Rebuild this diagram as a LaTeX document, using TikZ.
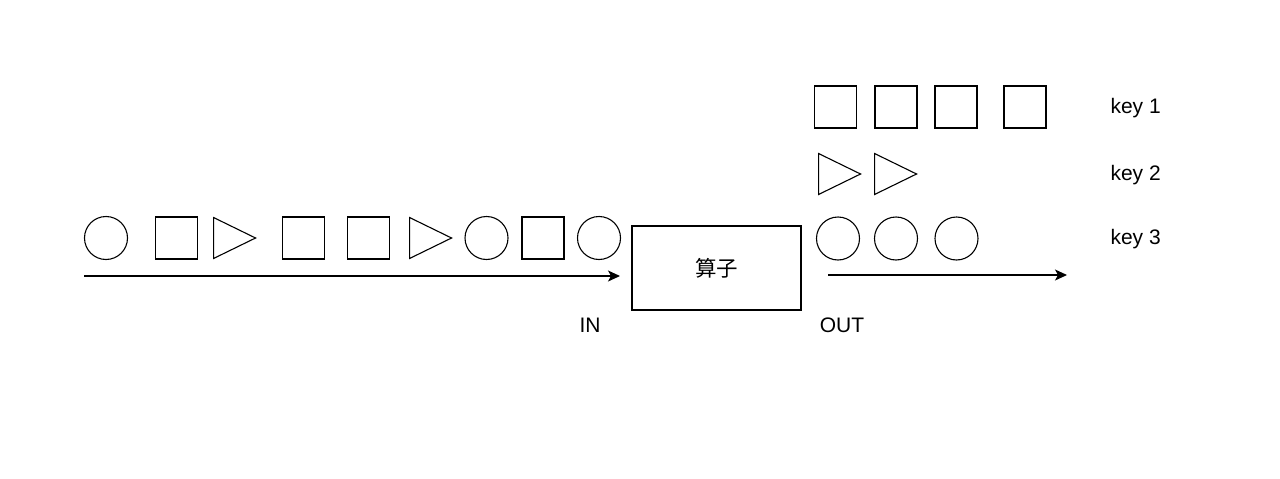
\documentclass[tikz,border=0pt]{standalone}
\usepackage{fontspec}
\setmainfont{Liberation Sans}
\newfontfamily\cjk{Noto Sans CJK SC}
\usetikzlibrary{arrows.meta,shapes.geometric}

\begin{document}
\begin{tikzpicture}[
  x=1pt, y=-1pt,
  >={Stealth[length=12pt,width=11pt,inset=3pt]},
  token/.style={draw,line width=1.1pt,inner sep=0pt},
  circ/.style={token,circle,minimum size=43pt},
  sq/.style={token,rectangle,minimum size=42pt},
  tri/.style={token,isosceles triangle,isosceles triangle apex angle=52,
              minimum height=42pt,anchor=west},
  lbl/.style={font=\fontsize{21}{25}\selectfont},
  flow/.style={->,line width=1.1pt},
]
\useasboundingbox (0,0) rectangle (1280,479);

% ===================================================================
% Input stream (left of the operator)
% ===================================================================
\foreach \kind/\x [count=\i] in {circ/106, sq/176.5, tri/213, sq/303.5,
    sq/368.5, tri/409, circ/486.5, sq/543, circ/599}
  \node[\kind] (in\i) at (\x,238) {};

\coordinate (inStart) at (84,276);
\coordinate (inEnd)   at (620,276);
\draw[flow] (inStart) -- (inEnd);
\node[lbl] (inLabel) at (590,325) {IN};

% ===================================================================
% Operator box
% ===================================================================
\node[draw,line width=1.1pt,minimum width=169pt,minimum height=84pt]
  (op) at (716.5,268) {\fontsize{21.5}{25}\selectfont\cjk 算子};

% ===================================================================
% Output streams, one row per key
% ===================================================================
\foreach \x [count=\i] in {835.5,896,956,1025}
  \node[sq] (keyA\i) at (\x,107) {};
\foreach \x [count=\i] in {818,874}
  \node[tri] (keyB\i) at (\x,174) {};
\foreach \x [count=\i] in {838,896,956.5}
  \node[circ] (keyC\i) at (\x,238.5) {};

\node[lbl,anchor=west] (key1) at (1107,108) {key 1};
\node[lbl,anchor=west] (key2) at (1107,175) {key 2};
\node[lbl,anchor=west] (key3) at (1107,239) {key 3};

\coordinate (outStart) at (828,275);
\coordinate (outEnd)   at (1067,275);
\draw[flow] (outStart) -- (outEnd);
\node[lbl] (outLabel) at (842,325) {OUT};

\end{tikzpicture}
\end{document}
